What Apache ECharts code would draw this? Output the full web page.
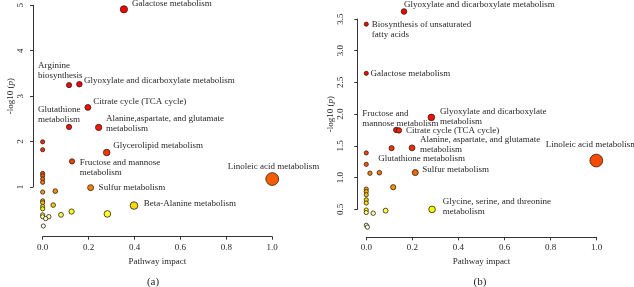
<!DOCTYPE html>
<html><head><meta charset="utf-8">
<script src="https://cdn.jsdelivr.net/npm/echarts@6/dist/echarts.min.js"></script>
<style>html,body{margin:0;padding:0;background:#fff}#c{width:634px;height:287px}</style>
</head><body><div id="c"></div>
<script>
// ---- tick values ----
const xTicks = [0, 0.2, 0.4, 0.6, 0.8, 1.0];
const yTicksA = [1, 2, 3, 4, 5];
const yTicksB = [0.5, 1.0, 1.5, 2.0, 2.5, 3.0, 3.5];

// ---- panel (a) ----
const pathwayA = ['Galactose metabolism','Glyoxylate and dicarboxylate metabolism','Arginine\nbiosynthesis','Citrate cycle (TCA cycle)','Glutathione\nmetabolism','Alanine,aspartate, and glutamate\nmetabolism','','','Glycerolipid metabolism','Fructose and mannose\nmetabolism','','','Linoleic acid metabolism','','','Sulfur metabolism','','','','','','Beta-Alanine metabolism','','','','','','','','','',''];
const impactA = [0.354,0.16,0.115,0.197,0.115,0.244,0,0,0.279,0.128,0,0,1.0,0,0,0.209,0.055,0,0,0,0.046,0.398,0,0,0.126,0.282,0.08,0,0,0.027,0.013,0.003];
const logpA = [4.82,3.21,3.19,2.71,2.29,2.28,1.97,1.80,1.74,1.55,1.29,1.24,1.17,1.17,1.10,0.985,0.91,0.89,0.70,0.66,0.61,0.60,0.58,0.53,0.47,0.42,0.40,0.40,0.36,0.36,0.32,0.16];

// ---- panel (b) ----
const pathwayB = ['Glyoxylate and dicarboxylate metabolism','Biosynthesis of unsaturated\nfatty acids','Galactose metabolism','Glyoxylate and dicarboxylate\nmetabolism','Fructose and\nmannose metabolism','Citrate cycle (TCA cycle)','Alanine, aspartate, and glutamate\nmetabolism','Glutathione metabolism','','Linoleic acid metabolism','','Sulfur metabolism','','','','','','','','','Glycine, serine, and threonine\nmetabolism','','','','','',''];
const impactB = [0.164,0,0,0.283,0.130,0.142,0.199,0.11,0,1.0,0,0.213,0.057,0.016,0.117,0,0,0,0,0,0.286,0,0.084,0,0.03,0,0.005];
const logpB = [3.62,3.42,2.645,1.95,1.752,1.745,1.47,1.465,1.39,1.27,1.21,1.08,1.078,1.07,0.85,0.82,0.78,0.73,0.65,0.60,0.50,0.49,0.48,0.45,0.44,0.25,0.22];

// ---- label layout (offset of text from point: dx, dy of first line centre, align) ----
const layoutA = {
  'Galactose metabolism':[8,-5.3],
  'Arginine\nbiosynthesis':[-31,-19],
  'Glyoxylate and dicarboxylate metabolism':[4.7,-4],
  'Citrate cycle (TCA cycle)':[5.3,-5.6],
  'Glutathione\nmetabolism':[-31,-17],
  'Alanine,aspartate, and glutamate\nmetabolism':[7.3,-9],
  'Glycerolipid metabolism':[6.6,-7],
  'Fructose and mannose\nmetabolism':[7.7,1],
  'Sulfur metabolism':[8,0],
  'Beta-Alanine metabolism':[9.7,-2.4],
  'Linoleic acid metabolism':[1.3,-12.3,'center']
};
const layoutB = {
  'Glyoxylate and dicarboxylate metabolism':[0,-7.3],
  'Biosynthesis of unsaturated\nfatty acids':[5.6,0.7],
  'Galactose metabolism':[4.3,0],
  'Fructose and\nmannose metabolism':[-34,-16],
  'Glyoxylate and dicarboxylate\nmetabolism':[8.7,-5.6],
  'Citrate cycle (TCA cycle)':[7,0.4],
  'Alanine, aspartate, and glutamate\nmetabolism':[8,-8.4],
  'Glutathione metabolism':[-13.4,10],
  'Sulfur metabolism':[7,-3.3],
  'Glycine, serine, and threonine\nmetabolism':[10.7,-7.6],
  'Linoleic acid metabolism':[-4.7,-16.3,'center']
};

const FONT = 'Liberation Serif';
const TXT = '#231f20';
const LH = 10;

function hsv2hex(h, s, v) {
  const i = Math.floor(h * 6), f = h * 6 - i;
  const p = v * (1 - s), q = v * (1 - f * s), t = v * (1 - (1 - f) * s);
  let r, g, b;
  switch (i % 6) {
    case 0: r=v; g=t; b=p; break; case 1: r=q; g=v; b=p; break;
    case 2: r=p; g=v; b=t; break; case 3: r=p; g=q; b=v; break;
    case 4: r=t; g=p; b=v; break; default: r=v; g=p; b=q;
  }
  const hx = x => ('0' + Math.round(x * 255).toString(16)).slice(-2);
  return '#' + hx(r) + hx(g) + hx(b);
}
// heat palette by rank (red -> yellow -> pale), as in the reference
function heatColors(n) {
  const j = Math.floor(n / 4), i = n - j, out = [];
  for (let k = 0; k < i; k++) out.push(hsv2hex(Math.pow(i > 1 ? k / (i - 1) : 0, 1.5) / 6, 1, 0.97));
  for (let k = 0; k < j; k++) {
    const s = j > 1 ? (1 - 1 / (2 * j)) + k * ((1 / (2 * j)) - (1 - 1 / (2 * j))) / (j - 1) : 1 - 1 / (2 * j);
    out.push(hsv2hex(1 / 6, s, 1));
  }
  return out;
}

function buildData(names, xs, ys, layout) {
  const n = ys.length;
  const order = ys.map((v, i) => i).sort((a, b) => ys[b] - ys[a]);
  const cols = heatColors(n);
  const rank = new Array(n);
  order.forEach((idx, r) => rank[idx] = r);
  return xs.map((x, i) => {
    const item = { value: [x, ys[i]], itemStyle: { color: cols[rank[i]] } };
    const nm = names[i];
    if (nm && layout[nm]) {
      const L = layout[nm];
      item.label = {
        show: true, formatter: nm, position: 'inside',
        align: L[2] || 'left', verticalAlign: 'top',
        offset: [L[0], L[1] - LH / 2],
        color: TXT, fontFamily: FONT, fontSize: 9, lineHeight: LH,
        textBorderWidth: 0
      };
    }
    return item;
  });
}

const axisStyle = { lineStyle: { color: '#333', width: 1 } };
const tickLabel = { color: TXT, fontFamily: FONT, fontSize: 9 };
const nameStyle = { color: TXT, fontFamily: FONT, fontSize: 9 };

function visX(gridIndex, ticks) {
  return {
    type: 'value', gridIndex, min: ticks[0], max: ticks[ticks.length - 1],
    interval: +(ticks[1] - ticks[0]).toFixed(6), position: 'bottom',
    axisLine: { show: true, ...axisStyle }, axisTick: { show: true, length: 3, ...axisStyle },
    axisLabel: { ...tickLabel, margin: 6, formatter: v => v.toFixed(1) },
    splitLine: { show: false },
    name: 'Pathway impact', nameLocation: 'middle', nameGap: 20, nameTextStyle: nameStyle
  };
}
function visY(gridIndex, ticks, dec, labelMargin, nameGap) {
  return {
    type: 'value', gridIndex, min: ticks[0], max: ticks[ticks.length - 1],
    interval: +(ticks[1] - ticks[0]).toFixed(6), position: 'left',
    axisLine: { show: true, ...axisStyle }, axisTick: { show: true, length: 3, ...axisStyle },
    axisLabel: { ...tickLabel, rotate: 90, margin: labelMargin, formatter: v => v.toFixed(dec) },
    splitLine: { show: false },
    name: '-log10 ({i|p})', nameLocation: 'middle', nameRotate: 90, nameGap,
    nameTextStyle: { ...nameStyle, rich: { i: { fontStyle: 'italic', fontFamily: FONT, fontSize: 9, color: TXT } } }
  };
}
const hidden = (gridIndex, min, max) => ({ type: 'value', gridIndex, min, max, show: false, splitLine: { show: false } });

const sizeOf = v => 4.2 + 8.6 * v[0];

const option = {
  animation: false,
  backgroundColor: '#fff',
  grid: [
    { left: 33, top: 0, width: 248.4, height: 236.7 },
    { left: 42.7, top: 230, width: 229.5, height: 6.7 },
    { left: 33, top: 1, width: 10, height: 186 },
    { left: 357.3, top: 2.6, width: 248.2, height: 234.7 },
    { left: 366.3, top: 230, width: 230.4, height: 7.3 },
    { left: 357.3, top: 19, width: 10, height: 190.3 }
  ],
  xAxis: [
    hidden(0, -0.042, 1.04),
    visX(1, xTicks),
    hidden(2, 0, 1),
    hidden(3, -0.039, 1.04),
    visX(4, xTicks),
    hidden(5, 0, 1)
  ],
  yAxis: [
    hidden(0, -0.07, 5.02),
    hidden(1, 0, 1),
    visY(2, yTicksA, 0, 8, 13),
    hidden(3, 0.06, 3.76),
    hidden(4, 0, 1),
    visY(5, yTicksB, 1, 12, 19)
  ],
  series: [
    {
      type: 'scatter', xAxisIndex: 0, yAxisIndex: 0, clip: false,
      symbol: 'circle', symbolSize: sizeOf,
      itemStyle: { borderColor: '#2a2220', borderWidth: 0.8, opacity: 1 },
      emphasis: { disabled: true },
      data: buildData(pathwayA, impactA, logpA, layoutA)
    },
    {
      type: 'scatter', xAxisIndex: 3, yAxisIndex: 3, clip: false,
      symbol: 'circle', symbolSize: sizeOf,
      itemStyle: { borderColor: '#2a2220', borderWidth: 0.8, opacity: 1 },
      emphasis: { disabled: true },
      data: buildData(pathwayB, impactB, logpB, layoutB)
    }
  ],
  graphic: [
    { type: 'text', x: 153, y: 282, style: { text: '(a)', textAlign: 'center', textVerticalAlign: 'middle', font: '11px "Liberation Serif"', fill: TXT } },
    { type: 'text', x: 480, y: 282, style: { text: '(b)', textAlign: 'center', textVerticalAlign: 'middle', font: '11px "Liberation Serif"', fill: TXT } }
  ]
};
const chart = echarts.init(document.getElementById('c'), null, { renderer: 'canvas' });
chart.setOption(option);
</script>
</body></html>
